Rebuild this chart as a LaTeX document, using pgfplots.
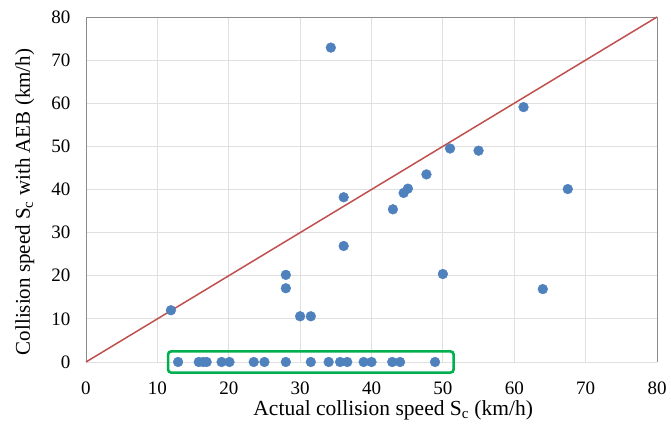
\documentclass[border=0pt]{standalone}
\usepackage{pgfplots}
\pgfplotsset{compat=1.18}
\usepackage{fontspec}
\setmainfont{Liberation Serif}
\definecolor{ptblue}{HTML}{4F81BD}
\definecolor{linered}{HTML}{C0504D}
\definecolor{gridgray}{HTML}{E0E0E0}
\definecolor{axgray}{HTML}{8C8C8C}
\definecolor{boxgreen}{HTML}{00B050}
\begin{document}
\begin{tikzpicture}
\begin{axis}[
  name=ax,
  scale only axis,
  width=571pt, height=345pt,
  xmin=0, xmax=80, ymin=0, ymax=80,
  xtick={0,10,...,80}, ytick={0,10,...,80},
  grid=major,
  major grid style={gridgray, line width=0.8pt},
  axis line style={draw=none},
  major tick length=0pt,
  tick style={draw=none},
  /pgf/number format/assume math mode=true,
  ticklabel style={font=\fontsize{19}{22}\selectfont},
  xticklabel style={yshift=-16pt},
  yticklabel style={xshift=-12pt},
  xlabel={Actual collision speed S\textsubscript{c} (km/h)},
  ylabel={Collision speed S\textsubscript{c} with AEB (km/h)},
  xlabel style={font=\fontsize{21.5}{24}\selectfont, inner sep=0pt, at={(axis description cs:0.538,-0.11)}, anchor=north},
  ylabel style={font=\fontsize{21}{24}\selectfont, inner sep=0pt, at={(axis description cs:-0.1243,0.464)}, anchor=north},
  clip=false,
]
\draw[axgray, line width=0.9pt] (rel axis cs:0,0) -- (rel axis cs:0,1) -- (rel axis cs:1,1) -- (rel axis cs:1,0);
\addplot[linered, line width=1.5pt] coordinates {(0,0) (80,80)};
\addplot[only marks, mark=*, mark size=4.9pt, mark options={fill=ptblue, draw=ptblue}] coordinates {
(11.9,12.0) (34.3,72.9) (61.3,59.1) (51.0,49.5) (55.0,49.0)
(36.1,38.2) (47.7,43.5) (44.5,39.2) (45.1,40.2) (43.0,35.4)
(36.1,26.9) (67.5,40.1) (28.0,20.2) (28.0,17.1) (50.0,20.4)
(64.0,16.9) (30.0,10.6) (31.5,10.6)
(12.9,0) (15.8,0) (16.4,0) (16.9,0) (19.0,0) (20.1,0) (23.5,0) (25.0,0)
(28.0,0) (31.5,0) (34.0,0) (35.6,0) (36.6,0) (38.9,0) (40.0,0) (42.9,0)
(44.0,0) (48.9,0)
};
\draw[boxgreen, line width=2.6pt, rounded corners=3pt] (axis cs:11.5,-2.45) rectangle (axis cs:51.5,2.45);
\end{axis}
\pgfresetboundingbox
\path ([shift={(-86pt,-72pt)}]ax.south west) rectangle ([shift={(14pt,17pt)}]ax.north east);
\end{tikzpicture}
\end{document}
